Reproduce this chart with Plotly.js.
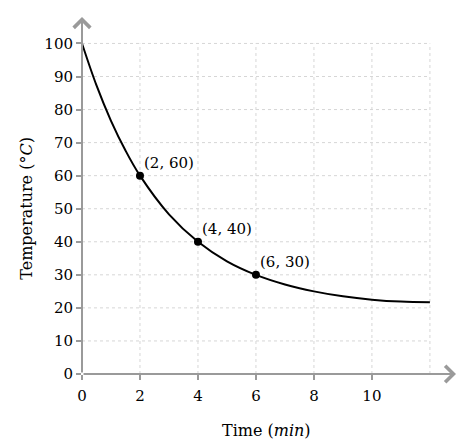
<!DOCTYPE html>
<html>
<head>
<meta charset="utf-8">
<script src="https://cdn.plot.ly/plotly-3.0.1.min.js"></script>
<style>
  html, body { margin: 0; padding: 0; background: #fff; }
  #chart { width: 474px; height: 447px; }
</style>
</head>
<body>
<div id="chart"></div>
<script>
  // cooling curve
  const timeMin = [0, 0.5, 1, 1.5, 2, 3, 4, 5, 6, 7, 8, 9, 10, 11, 12];
  const tempC   = [100, 87.3, 76.6, 67.6, 60, 48.3, 40, 34.1, 30, 27.1, 25, 23.5, 22.5, 21.9, 21.7];

  // labelled points
  const pointT    = [2, 4, 6];
  const pointTemp = [60, 40, 30];

  const xTicks = [0, 2, 4, 6, 8, 10];
  const yTicks = [0, 10, 20, 30, 40, 50, 60, 70, 80, 90, 100];
  const xGrid  = [2, 4, 6, 8, 10, 12];
  const yGrid  = [10, 20, 30, 40, 50, 60, 70, 80, 90, 100];

  const axisColor = '#9a9a9a';
  const font = 'DejaVu Serif, serif';

  const xMax = 12, yMax = 100;
  const xArrow = 12.9, yArrow = 108;

  let shapes = [];
  xGrid.forEach(v => {
    shapes.push({type: 'line', xref: 'x', yref: 'y', x0: v, x1: v, y0: 0, y1: yMax,
      line: {color: '#d6d6d6', width: 1, dash: 'dot'}, layer: 'below'});
  });
  yGrid.forEach(v => {
    shapes.push({type: 'line', xref: 'x', yref: 'y', x0: 0, x1: xMax, y0: v, y1: v,
      line: {color: '#d6d6d6', width: 1, dash: 'dot'}, layer: 'below'});
  });

  let annotations = pointT.map((t, i) => ({
    x: t, y: pointTemp[i], xref: 'x', yref: 'y',
    text: '(' + t + ', ' + pointTemp[i] + ')',
    showarrow: false, xanchor: 'left', yanchor: 'middle',
    xshift: 2, yshift: 13,
    font: {family: font, size: 15, color: '#000'}
  }));

  // axis arrows
  annotations.push({x: xArrow, y: 0, ax: 0, ay: 0, xref: 'x', yref: 'y', axref: 'x', ayref: 'y',
    text: '', showarrow: true, arrowhead: 4, arrowsize: 1.6, arrowwidth: 2, arrowcolor: axisColor});
  annotations.push({x: 0, y: yArrow, ax: 0, ay: 0, xref: 'x', yref: 'y', axref: 'x', ayref: 'y',
    text: '', showarrow: true, arrowhead: 4, arrowsize: 1.6, arrowwidth: 2, arrowcolor: axisColor});

  // axis titles (centred like the original, not on the arrow-extended range)
  annotations.push({text: 'Time (<i>min</i>)', xref: 'paper', yref: 'paper', x: 0.494, y: -0.157,
    xanchor: 'center', yanchor: 'middle', showarrow: false,
    font: {family: font, size: 16, color: '#000'}});
  annotations.push({text: 'Temperature (°<i>C</i>)', xref: 'paper', yref: 'y', x: -0.147, y: 50,
    xanchor: 'center', yanchor: 'middle', textangle: -90, showarrow: false,
    font: {family: font, size: 16, color: '#000'}});

  const data = [
    {x: timeMin, y: tempC, mode: 'lines', line: {shape: 'spline', color: '#000', width: 2},
     cliponaxis: false, hoverinfo: 'skip'},
    {x: pointT, y: pointTemp, mode: 'markers', marker: {color: '#000', size: 8},
     cliponaxis: false, hoverinfo: 'skip'}
  ];

  const layout = {
    width: 474, height: 447,
    margin: {l: 82, r: 18, t: 17, b: 73},
    paper_bgcolor: '#fff', plot_bgcolor: '#fff',
    showlegend: false,
    font: {family: font, size: 15, color: '#000'},
    xaxis: {
      range: [0, xArrow], tickvals: xTicks, ticktext: xTicks.map(String),
      ticks: 'outside', ticklen: 5, tickwidth: 2, tickcolor: axisColor,
      ticklabelstandoff: 3,
      showgrid: false, zeroline: false, showline: false,
      tickfont: {family: font, size: 15, color: '#000'}
    },
    yaxis: {
      range: [0, yArrow], tickvals: yTicks, ticktext: yTicks.map(String),
      ticks: 'outside', ticklen: 5, tickwidth: 2, tickcolor: axisColor,
      showgrid: false, zeroline: false, showline: false,
      tickfont: {family: font, size: 15, color: '#000'}
    },
    shapes: shapes,
    annotations: annotations
  };

  Plotly.newPlot('chart', data, layout, {displayModeBar: false, staticPlot: true});
</script>
</body>
</html>
